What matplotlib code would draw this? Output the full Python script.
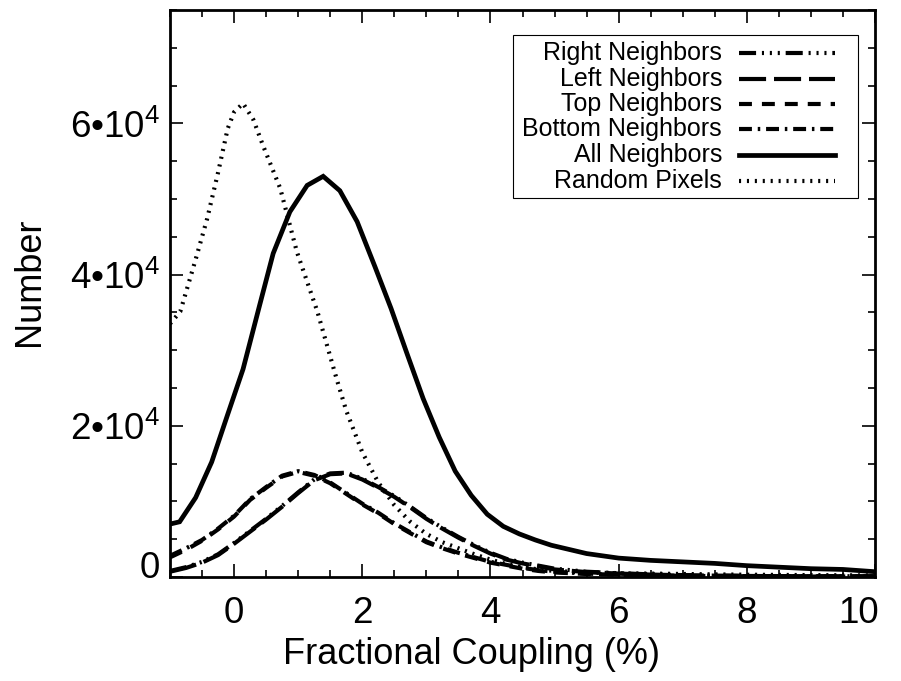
import matplotlib
matplotlib.use("Agg")
import matplotlib.pyplot as plt
from matplotlib.ticker import MultipleLocator
from matplotlib.patches import Rectangle
from matplotlib.transforms import ScaledTranslation

plt.rcParams['font.family'] = ['Liberation Sans', 'DejaVu Sans']
plt.rcParams['mathtext.fontset'] = 'custom'
plt.rcParams['mathtext.rm'] = 'Liberation Sans'

# ---- data ----
x_nb = [-1, -0.75, -0.5, -0.25, 0, 0.25, 0.5, 0.75, 1, 1.25, 1.5, 1.75, 2, 2.25, 2.5,
        2.75, 3, 3.25, 3.5, 3.75, 4, 4.25, 4.5, 4.75, 5, 5.5, 6, 6.5, 7, 7.5, 8, 8.5,
        9, 9.5, 10]

right_nb = [800, 1300, 2000, 3000, 4500, 6100, 7700, 9400, 11200, 12900, 13700, 13800,
            13000, 11900, 10700, 9300, 7800, 6500, 5300, 4200, 3200, 2400, 1900, 1500,
            1100, 700, 500, 350, 250, 200, 150, 120, 100, 100, 100]
left_nb = [700, 1200, 1900, 2900, 4400, 6000, 7600, 9300, 11100, 12800, 13600, 13700,
           12900, 11800, 10600, 9200, 7700, 6400, 5200, 4100, 3100, 2300, 1800, 1400,
           1000, 650, 450, 320, 230, 180, 140, 110, 90, 90, 90]
top_nb = [2600, 3600, 4800, 6300, 8000, 10200, 11800, 13300, 13900, 13400, 12400, 11000,
          9600, 8400, 7000, 5800, 4600, 3800, 3100, 2500, 1900, 1500, 1100, 800, 600,
          400, 300, 200, 150, 120, 100, 80, 60, 50, 50]
bottom_nb = [2800, 3800, 4900, 6400, 8100, 10300, 11900, 13400, 14000, 13500, 12500,
             11100, 9700, 8500, 7100, 5900, 4700, 3900, 3200, 2600, 2000, 1600, 1200,
             900, 700, 450, 320, 230, 170, 130, 110, 90, 70, 60, 60]

x_all = [-1, -0.85, -0.6, -0.35, -0.1, 0.14, 0.4, 0.61, 0.87, 1.14, 1.39, 1.65, 1.92,
         2.2, 2.45, 2.7, 2.95, 3.2, 3.45, 3.7, 3.95, 4.2, 4.45, 4.7, 4.95, 5.5, 6.0,
         6.5, 7.0, 7.5, 8.0, 8.5, 9.0, 9.5, 10.0]
all_nb = [7000, 7300, 10500, 15200, 21500, 27500, 36000, 42800, 48300, 51800, 53000,
          51100, 47000, 41000, 35500, 29500, 23600, 18500, 14000, 10800, 8300, 6700,
          5700, 4900, 4200, 3100, 2500, 2200, 2000, 1800, 1500, 1300, 1100, 1000, 700]

x_rand = [-1, -0.84, -0.6, -0.42, -0.25, -0.1, 0.0, 0.14, 0.3, 0.45, 0.72, 0.98, 1.3,
          1.6, 1.75, 2.0, 2.25, 2.5, 2.75, 3.0, 3.25, 3.5, 3.75, 4.0, 4.25, 4.5, 4.75,
          5.0, 5.5, 6.0, 7.0, 8.0, 9.0, 10.0]
rand_px = [33500, 35100, 42000, 47400, 53500, 59300, 61500, 62650, 60500, 57100, 51400,
           43000, 35100, 26200, 22000, 16500, 12500, 9500, 7300, 5700, 4600, 3800,
           3000, 2300, 1700, 1300, 1000, 800, 600, 500, 400, 300, 250, 200]

labels = ["Right Neighbors", "Left Neighbors", "Top Neighbors", "Bottom Neighbors",
          "All Neighbors", "Random Pixels"]

lw = 3.0
styles = [
    (4.1, 1.4, 0.5, 1.4, 0.5, 1.4, 0.5, 1.4),   # dash dot dot dot
    (6.5, 1.9),                                 # long dash
    (3.1, 2.4),                                 # dash
    (3.1, 1.4, 0.6, 1.4),                       # dash dot
    None,                                       # solid
    (0.5, 1.4),                                 # dotted
]

fig = plt.figure(figsize=(9.01, 6.81), dpi=100)
ax = fig.add_axes([170 / 901, 104 / 681, 705 / 901, 567 / 681])

series = [(x_nb, right_nb), (x_nb, left_nb), (x_nb, top_nb), (x_nb, bottom_nb),
          (x_all, all_nb), (x_rand, rand_px)]
for (xs, ys), st in zip(series, styles):
    if st is None:
        ax.plot(xs, ys, color='black', lw=lw + 0.4, solid_joinstyle='miter')
    else:
        ln, = ax.plot(xs, ys, color='black', lw=lw)
        ln.set_dashes(st)

ax.set_xlim(-1, 10)
ax.set_ylim(0, 75000)
ax.set_xticks([0, 2, 4, 6, 8, 10])
ax.set_yticks([0, 20000, 40000, 60000],
              labels=['0', '2•$\\mathregular{10^{4}}$', '4•$\\mathregular{10^{4}}$',
                      '6•$\\mathregular{10^{4}}$'])
ax.xaxis.set_minor_locator(MultipleLocator(0.5))
ax.yaxis.set_minor_locator(MultipleLocator(5000))
ax.tick_params(which='both', direction='in', top=True, right=True, width=1.2,
               labelsize=26.5)
ax.tick_params(which='major', length=9.5)
ax.tick_params(which='minor', length=5)
ax.tick_params(axis='x', pad=14)
ax.tick_params(axis='y', pad=7)
for sp in ax.spines.values():
    sp.set_linewidth(2)

ax.set_xlabel("Fractional Coupling (%)", fontsize=26)
ax.xaxis.set_label_coords(0.427, -0.105)
ax.set_ylabel("Number", fontsize=26)
ax.yaxis.set_label_coords(-0.175, 0.52)

# lift the "0" label and pull the "10" label in, like the original
lab0 = ax.get_yticklabels()[0]
lab0.set_transform(lab0.get_transform() + ScaledTranslation(0, 0.12, fig.dpi_scale_trans))
lab10 = ax.get_xticklabels()[-1]
lab10.set_transform(lab10.get_transform() + ScaledTranslation(-0.16, 0, fig.dpi_scale_trans))

# legend drawn by hand: text right-aligned, sample line on the right
ax.add_patch(Rectangle((0.4865, 0.668), 0.4895, 0.288, transform=ax.transAxes,
                       facecolor='white', edgecolor='black', lw=0.8, zorder=5))
row_y = [0.924, 0.878, 0.835, 0.790, 0.745, 0.698]
for yy, lab, st in zip(row_y, labels, styles):
    ax.text(0.783, yy, lab, transform=ax.transAxes, ha='right', va='center',
            fontsize=18, zorder=6)
    if st is None:
        ax.plot([0.807, 0.943], [yy, yy], transform=ax.transAxes, color='black',
                lw=lw + 0.4, zorder=6, clip_on=False)
    else:
        ln, = ax.plot([0.807, 0.943], [yy, yy], transform=ax.transAxes,
                      color='black', lw=lw, zorder=6, clip_on=False)
        ln.set_dashes(st)

fig.savefig("out.png", dpi=100)
